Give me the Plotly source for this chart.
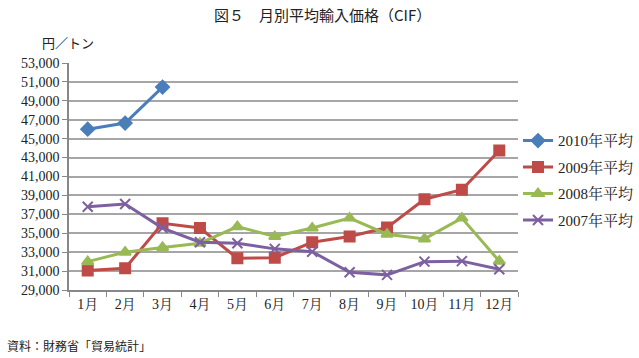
import plotly.graph_objects as go

months = ["1月", "2月", "3月", "4月", "5月", "6月", "7月", "8月", "9月", "10月", "11月", "12月"]
y2010 = [46000, 46650, 50450]
y2009 = [31050, 31300, 36050, 35550, 32350, 32420, 34050, 34650, 35600, 38600, 39600, 43750]
y2008 = [32000, 33000, 33500, 33950, 35700, 34650, 35550, 36600, 34900, 34400, 36600, 32050]
y2007 = [37800, 38100, 35550, 34050, 33950, 33350, 33050, 30870, 30600, 32000, 32050, 31200]
series_names = ["2010年平均", "2009年平均", "2008年平均", "2007年平均"]
yticks = list(range(29000, 53001, 2000))

colors = ["#4A7EBB", "#BE4B48", "#98B954", "#7D60A0"]
symbols = ["diamond", "square", "triangle-up", "x-thin"]
sizes = [10, 10, 10, 10]
data = [y2010, y2009, y2008, y2007]

serif = "Liberation Serif, Noto Serif CJK JP, Noto Sans CJK JP, serif"
fig = go.Figure()
for name, vals, c, s, sz in zip(series_names, data, colors, symbols, sizes):
    fig.add_trace(go.Scatter(
        x=months[:len(vals)], y=vals, name=name, mode="lines+markers",
        legendgroup=name,
        line=dict(color=c, width=3),
        marker=dict(symbol=s, size=sz, color=c, line=dict(color=c, width=2)),
    ))

fig.update_layout(
    width=639, height=358,
    margin=dict(l=69, r=121, t=63, b=68, autoexpand=False),
    plot_bgcolor="white", paper_bgcolor="white",
    font=dict(family=serif, size=14, color="#222"),
    showlegend=True,
    legend=dict(x=1.0, y=0.73, xanchor="left", yanchor="top",
                font=dict(family=serif, size=15, color="#222"),
                tracegroupgap=4, itemwidth=30, bgcolor="rgba(0,0,0,0)"),
    xaxis=dict(type="category", categoryorder="array", categoryarray=months,
               range=[-0.5, 11.5], showgrid=False, showline=True,
               linecolor="#888", linewidth=1.5, ticks="outside",
               tickson="boundaries", ticklen=5, tickcolor="#888",
               tickfont=dict(family=serif, size=14)),
    yaxis=dict(range=[29000, 53000], tickvals=yticks,
               ticktext=[f"{v:,}" for v in yticks],
               showgrid=True, gridcolor="#A6A6A6", gridwidth=1.5,
               showline=True, linecolor="#888", linewidth=1.5,
               ticks="outside", ticklen=5, tickcolor="#888",
               tickfont=dict(family=serif, size=14), zeroline=False),
    annotations=[
        dict(text="図５　月別平均輸入価格（CIF）", xref="paper", yref="paper",
             x=0.5635, y=1.0, yshift=49, xanchor="center", yanchor="middle",
             showarrow=False, font=dict(family="Noto Sans CJK JP", size=15, color="#222")),
        dict(text="円／トン", xref="paper", yref="paper", x=-0.0646, y=1.0, yshift=21,
             xanchor="left", yanchor="middle", showarrow=False,
             font=dict(family="Noto Sans CJK JP", size=13, color="#222")),
        dict(text="資料：財務省「貿易統計」", xref="paper", yref="paper", x=-0.1425, y=0,
             yshift=-55, xanchor="left", yanchor="middle", showarrow=False,
             font=dict(family="Noto Sans CJK JP", size=12, color="#222")),
    ],
)

fig.write_html("out.html", config={"displayModeBar": False},
               post_script="document.body.style.margin='0';")
